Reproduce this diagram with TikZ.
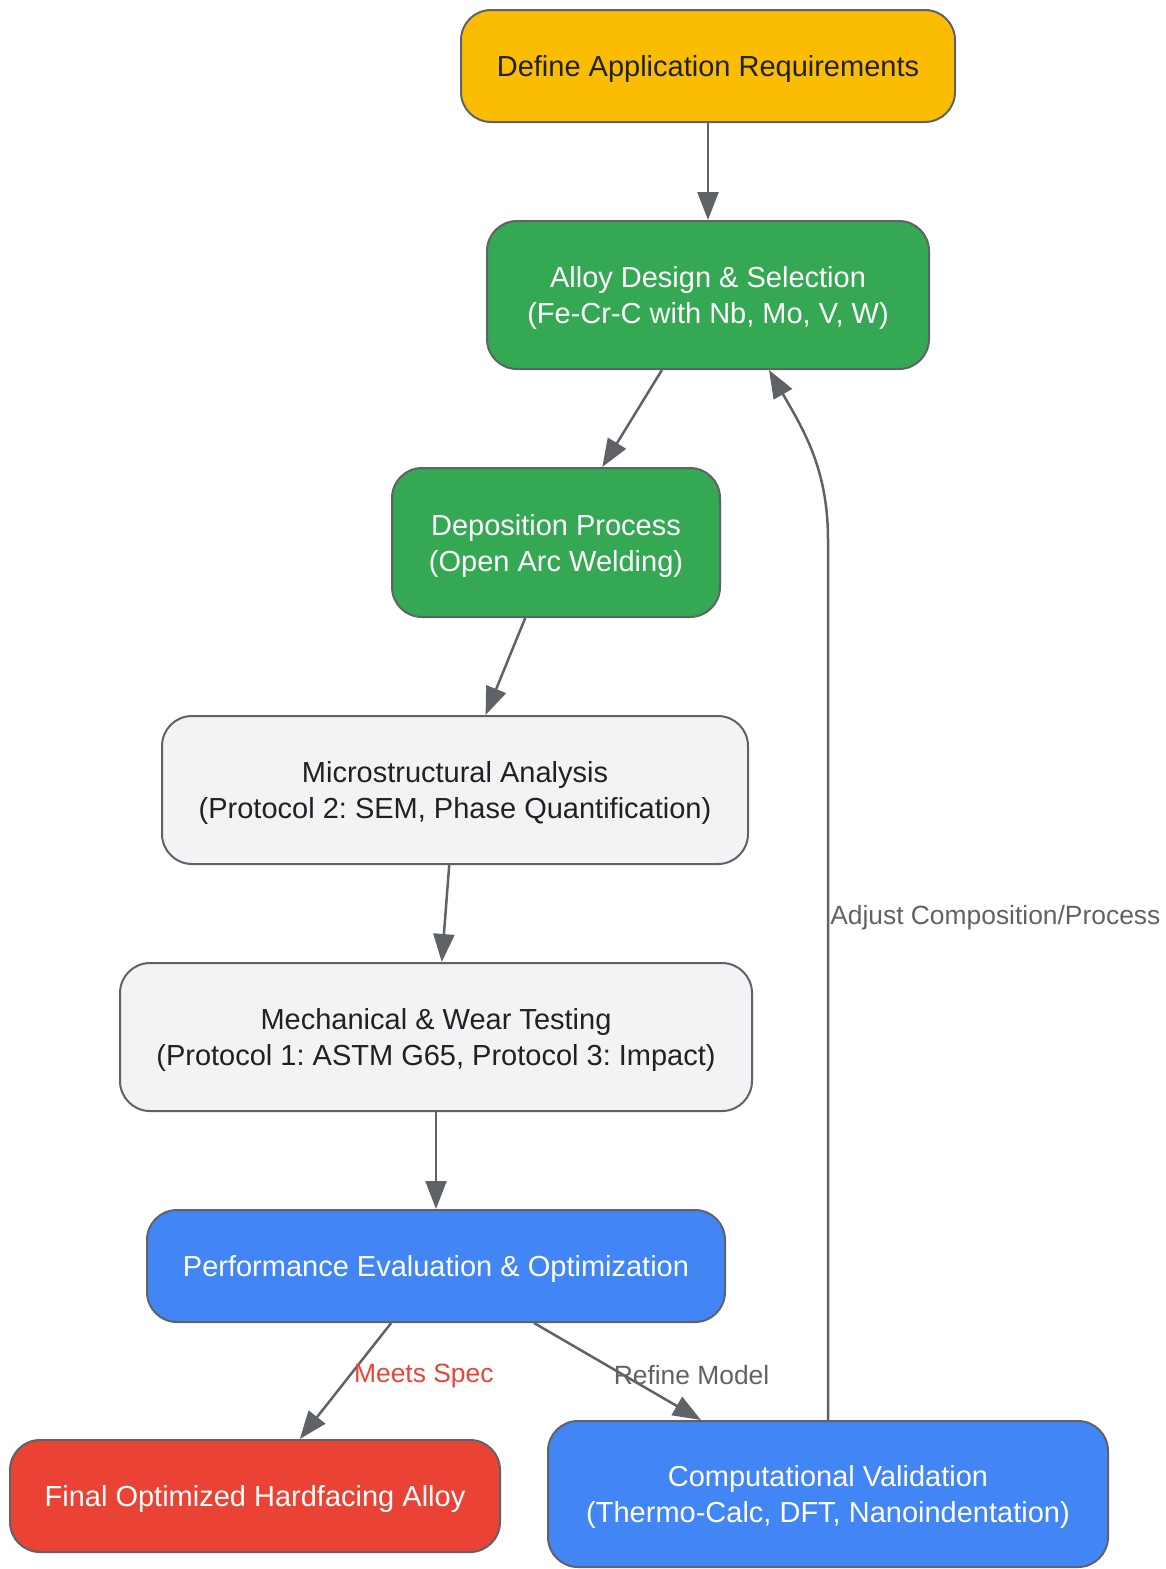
\documentclass[tikz,border=0pt]{standalone}
\usepackage{fontspec}
\setmainfont{Liberation Sans}
\frenchspacing
\usetikzlibrary{arrows.meta}
\definecolor{edgegray}{HTML}{5F6368}
\definecolor{darktext}{HTML}{202124}
\definecolor{reqyellow}{HTML}{FBBC04}
\definecolor{procgreen}{HTML}{34A853}
\definecolor{testgray}{HTML}{F1F3F4}
\definecolor{evalblue}{HTML}{4285F4}
\definecolor{finalred}{HTML}{EA4335}
\begin{document}
\begin{tikzpicture}[x=0.5pt, y=-0.5pt,
	box/.style = {draw=edgegray, line width=1pt, rounded corners=15pt, align=center, text depth=0pt, font=\fontsize{14.5}{18}\selectfont},
	dark/.style = {box, text=darktext},
	light/.style = {box, text=white},
	arr/.style = {draw=edgegray, line width=1.25pt, -{Triangle[length=14pt, width=10.5pt]}},
	lbl/.style = {font=\fontsize{13.2}{16}\selectfont, text=edgegray, inner sep=0.5pt, anchor=west, yshift=-1.8pt}]
	\useasboundingbox (0,0) rectangle (1166,1569);
	\node[dark, fill=reqyellow, minimum width=247pt, minimum height=56pt] (define) at (708,66) {Define Application Requirements};
	\node[light, fill=procgreen, minimum width=221pt, minimum height=74pt] (alloy) at (708,295) {Alloy Design \& Selection\\(Fe-Cr-C with Nb, Mo, V, W)};
	\node[light, fill=procgreen, minimum width=164pt, minimum height=74.5pt] (depo) at (556,542.5) {Deposition Process\\(Open Arc Welding)};
	\node[dark, fill=testgray, minimum width=293pt, minimum height=74pt] (micro) at (455,790) {Microstructural Analysis\\(Protocol 2: SEM, Phase Quantification)};
	\node[dark, fill=testgray, minimum width=316pt, minimum height=74pt] (mech) at (436,1037) {Mechanical \& Wear Testing\\(Protocol 1: ASTM G65, Protocol 3: Impact)};
	\node[light, fill=evalblue, minimum width=289pt, minimum height=56pt] (perf) at (436,1266) {Performance Evaluation \& Optimization};
	\node[light, fill=finalred, minimum width=245pt, minimum height=56pt] (final) at (255,1496) {Final Optimized Hardfacing Alloy};
	\node[light, fill=evalblue, minimum width=280pt, minimum height=73pt] (comp) at (828,1494) {Computational Validation\\(Thermo-Calc, DFT, Nanoindentation)};
	\coordinate (bend) at (828,540);

	\draw[arr] (define) -- (alloy);
	\draw[arr] (alloy) -- (depo);
	\draw[arr] (depo) -- (micro);
	\draw[arr] (micro) -- (mech);
	\draw[arr] (mech) -- (perf);
	\draw[arr] (perf) -- node[lbl, pos=0.43, text=finalred] {Meets Spec} (final);
	\draw[arr] (perf) -- node[lbl, pos=0.5, xshift=-3pt] {Refine Model} (comp);
	\draw[arr] (comp.north) -- node[lbl, pos=0.575] {Adjust Composition/Process} (bend) to[out=90, in=-60] ([xshift=30.5pt]alloy.south);
\end{tikzpicture}
\end{document}
